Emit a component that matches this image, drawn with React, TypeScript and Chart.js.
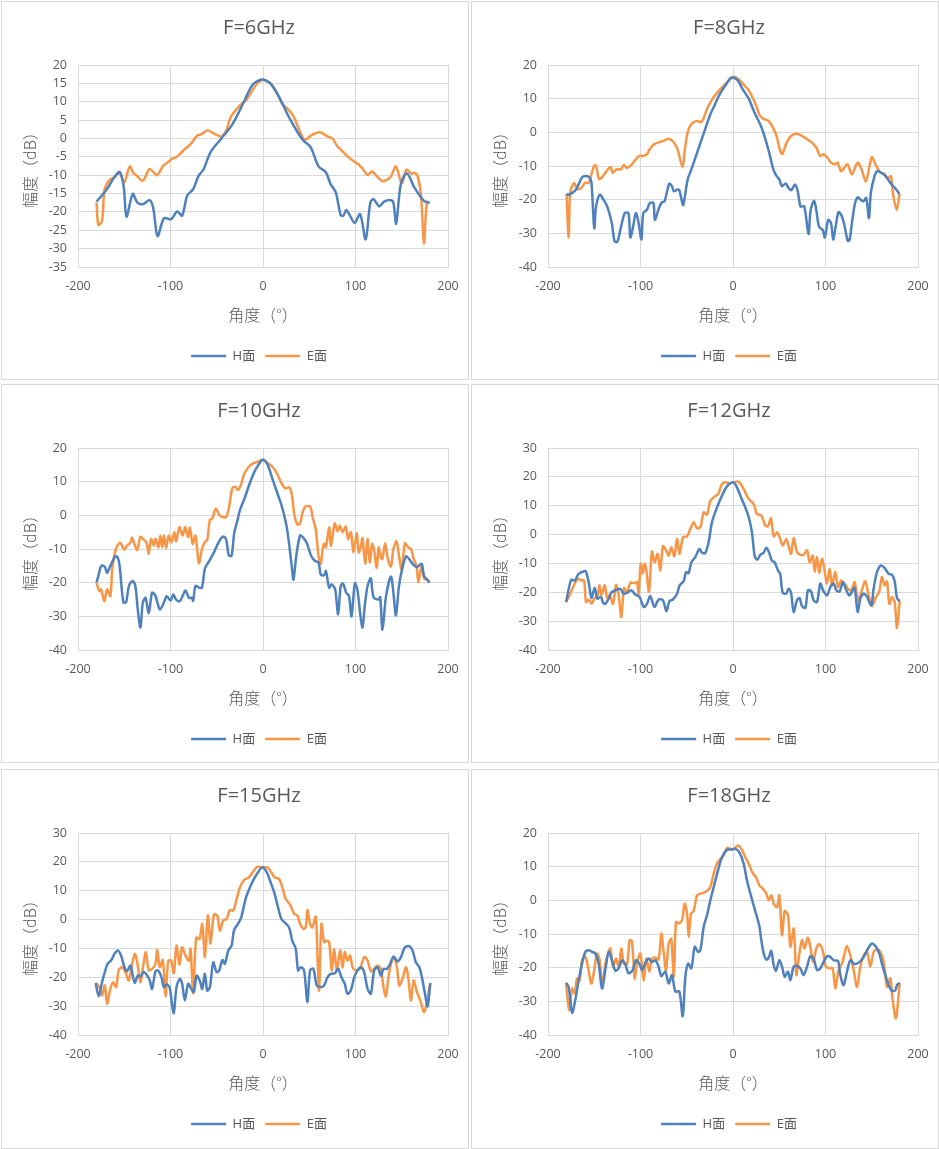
import React, { useEffect, useRef } from 'react';
import { Chart, registerables } from 'chart.js';

Chart.register(...registerables);

const FONT = '"Open Sans", "Noto Sans CJK SC", sans-serif';
const CJK_FONT = '"Noto Sans CJK SC", "Open Sans", sans-serif';
const TEXT = '#595959';
const GRID = '#d9d9d9';
const BLUE = '#4f81bd';
const ORANGE = '#f79646';

// [angle (deg), amplitude (dB)]
type Pt = [number, number];

const SERIES_NAMES = ['H面', 'E面'];
const X_TITLE = '角度（°）';
const Y_TITLE = '幅度（dB）';

const H_6: Pt[] = [
  [-180, -17.2], [-168.6, -13.8], [-161, -10.6], [-155, -9.2], [-150.5, -13.3], [-147.6, -21.3], [-140.8, -15.1],
  [-136, -17.4], [-129.6, -17.9], [-122.7, -16.8], [-118.8, -18.8], [-114, -26.6], [-107, -21.7], [-99.3, -22],
  [-92.8, -19.9], [-87.4, -21], [-82, -15.6], [-75.5, -13.8], [-69.7, -10.2], [-64, -8.3], [-56.7, -3.7], [-45, 0],
  [-35, 3.1], [-29.6, 5.4], [-20.6, 10], [-11.6, 14.5], [-2.5, 16], [2, 15.9], [8, 15], [17.3, 11.3], [30, 4.9],
  [42.6, -0.3], [51.6, -2.4], [60, -7.6], [68, -9.2], [73, -12.4], [78.7, -14.7], [84, -20.9], [87, -21], [90, -19.5],
  [94, -21], [99, -23], [105, -20.6], [111, -27.5], [116, -17.5], [119.5, -16.5], [125.6, -18.5], [131, -17.2],
  [138, -16.8], [141, -17.5], [144, -23.2], [149, -12.4], [155.6, -9.5], [163.5, -13.3], [174, -17], [180, -17.4],
];
const E_6: Pt[] = [
  [-180, -17.5], [-178, -23.5], [-174, -22.5], [-171.5, -14.2], [-168, -12], [-164, -11], [-160, -10.5], [-155, -9.1],
  [-150, -12], [-144, -7.6], [-140, -9.5], [-137, -10], [-130, -11.5], [-122.7, -8.3], [-118, -9.3], [-114.4, -10],
  [-108, -7.5], [-103, -6.5], [-98, -5.5], [-93, -5], [-85, -3], [-78, -1.5], [-71, 0.8], [-67, 1.1], [-60, 2.2],
  [-55, 1.6], [-50, 1], [-45, 0.5], [-40, 2], [-35, 5.8], [-30, 7.5], [-25, 9], [-18, 10.5], [-13, 12.5], [-6, 15],
  [0, 16], [8, 15], [15, 12.5], [21, 9.3], [27, 8], [33, 6], [38, 3], [44.4, -0.3], [48, 0], [53, 1], [61.7, 1.7],
  [70, 0.5], [75, 0], [80, -2], [86, -3.5], [92, -5], [97, -6], [103, -7], [107, -8], [113, -9.9], [118, -9],
  [122, -10], [128, -11.5], [132, -11.5], [138, -10.5], [143.7, -7.6], [150, -12.2], [155, -8.5], [160, -9.5],
  [165, -9.5], [168, -11], [171, -16], [174, -28.6], [177, -17.8], [180, -17.5],
];

const H_8: Pt[] = [
  [-180, -18.3], [-178, -18.6], [-170, -17.1], [-163, -13.3], [-158, -13], [-155, -13.5], [-153, -15], [-150, -28.5],
  [-148, -22], [-144, -18.5], [-140, -20], [-136, -22], [-131, -27], [-128, -32.4], [-125, -32.5], [-121, -28],
  [-117, -24], [-113, -24], [-111, -31.2], [-108, -28], [-105, -24], [-102, -27], [-99, -31.8], [-97, -24], [-93, -23],
  [-90, -21], [-86, -21], [-84.5, -26], [-80, -22.5], [-77, -20.8], [-74, -20.5], [-69, -15.3], [-66, -16],
  [-64, -17.5], [-60, -17], [-58, -17.2], [-54, -21.6], [-52, -19], [-49, -14], [-45, -11], [-40, -7], [-35, -3],
  [-30, 1], [-25, 5], [-20, 8], [-15, 11], [-8, 14], [-3, 16], [0, 16.2], [5, 15.5], [10, 13], [17, 10], [23, 6],
  [30, 2], [35, -2], [40, -7], [43, -10.5], [46, -12.5], [50, -14], [53, -16], [57, -15.2], [60, -16.5], [63, -17.2],
  [67, -15.5], [70, -17.5], [73, -22], [77, -22], [81.6, -30.2], [84, -23], [87.7, -20.3], [90, -23], [93, -28],
  [97, -29], [99.3, -31.2], [103, -26], [106, -27], [108.3, -31.8], [111, -28], [114, -23.7], [117, -24.5], [120, -27],
  [124, -32.2], [126, -32], [129, -26], [132, -21], [135, -19.3], [138, -20], [141, -20.5], [144, -19.5], [147, -25.5],
  [149, -18], [153, -13], [156, -11.5], [160, -12], [165, -13], [170, -15], [175, -16.5], [180, -18.3],
];
const E_8: Pt[] = [
  [-180, -18.3], [-177.6, -31.2], [-176, -18], [-172, -15.1], [-168, -16.8], [-164, -16.5], [-160, -15], [-156, -15],
  [-153, -12.5], [-150, -9.8], [-148, -10], [-145, -13.8], [-142, -13.5], [-138, -12], [-132.5, -10.3], [-130, -12],
  [-126, -11], [-121, -11], [-118, -9.7], [-115, -10.5], [-111, -10], [-108, -9], [-105, -8], [-101, -7], [-97, -7],
  [-93, -6.5], [-90, -5], [-85, -3.5], [-80, -3], [-75, -2.5], [-69, -1.9], [-64, -3], [-60, -5], [-54.5, -10.3],
  [-52, -5], [-49, 0], [-45, 2.5], [-39, 3.4], [-35, 3], [-32, 4], [-28, 7], [-22, 10], [-18, 11.5], [-13, 13],
  [-6, 15], [0, 16.5], [5, 16], [12, 14], [17, 12.5], [20, 11], [25, 8], [29, 5], [33, 4], [38, 3.5], [42, 2],
  [47, -1], [51, -5.5], [53.4, -6.4], [58, -3], [63, -1], [69, -0.4], [74, -1], [80, -2], [85, -3], [90, -4.5],
  [94, -7], [98, -6.5], [102, -7.5], [106, -9], [110, -9.5], [113, -9], [116.6, -11.5], [119, -11], [123.8, -9.5],
  [128.5, -12.5], [134.7, -9], [139, -11], [143.7, -14.5], [150, -7.4], [153.8, -9.4], [158.8, -11.8], [163.5, -12.3],
  [167, -13.8], [170.7, -13], [173, -18.3], [177, -23], [180, -18.3],
];

const H_10: Pt[] = [
  [-180, -19.9], [-178, -18], [-174.7, -15], [-171, -15.3], [-168.6, -17.1], [-165, -15], [-159.6, -12.2],
  [-157, -12.5], [-155, -15], [-151, -25.8], [-148, -25.8], [-145, -21], [-140.8, -19.5], [-138, -21], [-135, -29],
  [-132.5, -33.3], [-130, -26], [-127, -24.5], [-123.5, -29], [-120, -23], [-117, -23.5], [-114, -26], [-111.5, -28],
  [-108, -26.5], [-104, -24], [-100, -25.3], [-97, -23.5], [-94, -25], [-90, -25.5], [-86.6, -23.8], [-83.8, -22.3],
  [-80, -24.5], [-77, -24.5], [-75.5, -25.4], [-73, -21], [-69, -21.5], [-66, -21.5], [-63, -16], [-60, -14.4],
  [-58, -13.5], [-53, -11], [-48, -8], [-43.3, -6.3], [-40, -7], [-37, -11.9], [-34, -12], [-31, -5], [-28, -2],
  [-25, 1.5], [-20, 5], [-15, 9], [-10, 12.5], [-5, 15], [0, 16.5], [5, 15], [10, 11], [15, 7], [20, 3], [25, -2.5],
  [28, -8], [31, -15], [32.9, -19.1], [36, -12], [40, -6], [43, -6.5], [47, -8], [52, -12], [56, -13.5], [60, -14],
  [62.5, -17.6], [66, -17.8], [68, -16.5], [71.5, -21.5], [74, -20.5], [78, -22], [81.2, -29.4], [84, -21],
  [86.6, -20.3], [90, -23], [93, -24], [95.7, -30], [99.3, -20.2], [102, -22], [105, -29], [107.6, -33.3], [110, -27],
  [113, -21], [116.6, -18.7], [118, -22], [120, -24.5], [125, -25], [126.7, -24.3], [129.2, -34], [133, -24],
  [138.3, -18.2], [141, -23], [143.7, -29.7], [147, -21], [150, -16.5], [154.5, -12.2], [158, -13], [162, -14.5],
  [166.4, -15.4], [171.5, -14.4], [174, -18], [177, -19], [180, -19.9],
];
const E_10: Pt[] = [
  [-180, -20], [-177, -22.5], [-175, -22], [-171.5, -25.6], [-168.6, -22], [-165, -24], [-163, -16], [-160, -11],
  [-157, -8.8], [-154, -8.2], [-150, -10.2], [-147, -9], [-143, -8], [-141.5, -6.6], [-139, -8.5], [-136, -10.3],
  [-132.5, -6.4], [-129, -7.2], [-126, -8], [-123.5, -11.4], [-121, -7], [-118, -9], [-116, -7], [-113, -9.5],
  [-111, -6], [-109, -9.5], [-107, -6], [-104.7, -9.7], [-102, -6], [-99, -8], [-96, -5], [-93.9, -7.7],
  [-90.3, -3.5], [-87, -6], [-84, -3.5], [-81, -6.5], [-79, -3.7], [-76, -8.5], [-73, -6], [-69.3, -14.2], [-66, -10],
  [-63, -8], [-60.3, -7.3], [-57.4, -1.3], [-55, -1], [-51, 1.9], [-47, 0], [-44, -0.5], [-40, -0.5], [-37, 2],
  [-33.2, 8], [-30, 8.5], [-27, 7.5], [-24, 9], [-20, 12.5], [-15, 14.5], [-10, 15.5], [-5, 16], [0, 16.5], [5, 15.5],
  [10, 14.5], [15, 12.5], [20, 9.5], [24, 8], [28.5, 8.3], [31, 6.5], [34, 0], [37, -2.7], [40, -2.5], [43, 1],
  [46, 2.6], [51, 2.6], [54, -1], [57, -4], [60, -12], [62.5, -14.4], [64, -11], [66, -8.4], [68, -9.5], [71.5, -3.6],
  [73.5, -9], [77.5, -2.4], [80.5, -4.7], [83, -3], [86, -5], [89.5, -3.3], [92, -7], [95, -5], [97.8, -11],
  [101.4, -5.2], [103.5, -11], [106, -9], [107.6, -6.8], [110.5, -14.4], [113, -7], [115.5, -14], [118, -8.5],
  [120, -10], [123, -15.6], [125, -9.5], [127, -12], [129, -13], [132, -8.3], [135, -13], [138.3, -15.2], [141, -10],
  [144.4, -7.7], [147, -12], [150, -16.2], [153.4, -8.3], [157, -9.5], [160, -10], [163, -13], [166, -15],
  [168, -19.9], [171.5, -15], [174.4, -18.9], [177, -19], [180, -20],
];

const H_12: Pt[] = [
  [-180.5, -23.4], [-175, -15.7], [-171, -15.9], [-167, -13.6], [-161, -12.7], [-159, -12.8], [-156, -16.5],
  [-153, -22], [-149.5, -18.4], [-146.7, -22.2], [-142.7, -21.6], [-140.5, -23.6], [-138, -24], [-134.4, -22.2],
  [-131.5, -20.1], [-127, -19.3], [-121.8, -18.8], [-118, -20.5], [-114, -20.1], [-110, -19.3], [-105.6, -20.8],
  [-101, -21.6], [-96.6, -25.1], [-93, -24], [-89.4, -21.3], [-85, -25.1], [-80.4, -22.5], [-75.7, -22.8],
  [-72, -26.6], [-68.8, -23.1], [-65, -22.5], [-60.5, -20.5], [-57.7, -17.6], [-53.3, -16.1], [-50.8, -13],
  [-48, -13.4], [-45, -9.6], [-40.7, -7.8], [-36.4, -5], [-33.5, -6.3], [-30, -6.4], [-26.3, -2.6], [-22.7, 4.3],
  [-17.3, 9.4], [-11.9, 13.5], [-6.5, 16.7], [-1, 18.1], [2.5, 17.5], [7.9, 13.5], [13.3, 9.4], [17, 6], [20.5, 0.8],
  [23.4, -7.3], [26.3, -8.7], [29.5, -7], [33, -6.3], [36, -4.6], [39.6, -6.7], [42, -9], [45, -9.6], [48.6, -12.4],
  [51, -13.6], [53.7, -20.1], [57.3, -20.5], [60.2, -18.8], [62.7, -20.1], [65.6, -26.8], [69.2, -22.8], [72, -22],
  [74.6, -24.8], [78.2, -25.4], [81, -19.3], [84.3, -19.7], [87.2, -22.8], [90.8, -23.4], [94.4, -17], [97.3, -19.3],
  [101.6, -21.1], [105.2, -18.2], [108.8, -17], [111.7, -19.3], [115.3, -19.7], [118.9, -16.5], [122.5, -19.3],
  [125.8, -21.1], [129.4, -19.3], [131.5, -18.4], [134.8, -26.8], [137.7, -22.2], [141.3, -20.5], [144.9, -21.6],
  [149.5, -24.5], [152, -18.8], [155.7, -13], [160, -10.7], [164, -11.6], [168.3, -13.6], [171.9, -13.9],
  [174.8, -16.2], [177.3, -22], [180.2, -23.1],
];
const E_12: Pt[] = [
  [-180.5, -23.4], [-176.6, -21], [-172, -17.6], [-167.6, -15.3], [-164, -15.9], [-161, -15.9], [-158.9, -23.4],
  [-156, -22.5], [-153, -24], [-149.5, -22], [-146.7, -21.6], [-144.5, -17.6], [-142.3, -21], [-138.7, -17.6],
  [-136, -22], [-133.3, -21], [-129.7, -24], [-126.5, -17.4], [-123.6, -21], [-120.7, -28.6], [-117.8, -18.5],
  [-114.6, -20.1], [-111, -16.7], [-106.7, -16.9], [-103.8, -16.5], [-102, -20.5], [-99.8, -10.1], [-97.7, -13.6],
  [-95.5, -10.1], [-93.7, -12.4], [-90.8, -19.7], [-87.6, -5.9], [-84.7, -9.6], [-81.4, -6.7], [-78.6, -12.4],
  [-75.7, -4], [-72.4, -5.5], [-69.5, -7.3], [-66.7, -4.4], [-63.4, -7.5], [-60.5, -1.5], [-57.7, -6.7], [-54, -0.9],
  [-49.7, -0.6], [-46, 2], [-42.5, 4.3], [-38.9, 2.2], [-35.3, 2.5], [-31.7, 7.7], [-28.1, 6.9], [-24.5, 11.7],
  [-20.9, 12.9], [-16.2, 14], [-11.9, 17.5], [-8.3, 18.1], [-4.7, 17.8], [0.7, 18.1], [5.4, 18.4], [9.7, 16.9],
  [13.3, 14.6], [17, 12.3], [22.3, 10.6], [25.9, 7.1], [30.6, 6.6], [35, 3.1], [37.8, 2.9], [41, 5.6], [44, -0.6],
  [47.6, 0.8], [51, -1.5], [53.7, -3.8], [57.7, -1.5], [60.2, -4], [62.7, -6.7], [65.6, -1.2], [69.2, -6.1], [72.8, -7],
  [76.4, -7], [80, -5.5], [82.9, -9.6], [86.1, -7.3], [88.3, -12.8], [90.8, -7.8], [93.3, -13.2], [96.2, -8.4],
  [98.7, -11.9], [101.6, -17], [104.5, -11.9], [107, -17.6], [110.6, -13], [113.5, -18.2], [117.1, -15.9],
  [120.7, -17], [124.3, -18.8], [128, -19.3], [131.5, -16.5], [135.1, -22.8], [138.7, -19.9], [143, -16.2],
  [146.7, -21.1], [150.3, -24.8], [154.6, -21.6], [158.2, -19.7], [161, -14.7], [164, -17.6], [166.5, -16.2],
  [169, -24], [171.9, -21.6], [174.8, -23.4], [177.3, -32.4], [180.2, -23.1],
];

const H_15: Pt[] = [
  [-180.9, -22], [-177.6, -26.6], [-174, -21.7], [-171, -18.2], [-167.9, -15.3], [-164.3, -14.2], [-160.6, -11.9],
  [-157, -10.7], [-153.4, -12.5], [-149.8, -16.5], [-147, -17.9], [-143.3, -15.9], [-140.8, -19.4], [-138.6, -22],
  [-135.4, -19.4], [-132.5, -19.7], [-128.9, -18.2], [-125.3, -19.4], [-122.4, -21.1], [-119.9, -24], [-116.2, -17.9],
  [-113.4, -17.6], [-109.7, -20], [-107.2, -23.4], [-104.3, -22.5], [-101, -23.4], [-98.2, -29.8], [-96.4, -32.4],
  [-93.5, -23.4], [-89.9, -20.5], [-87.4, -22.3], [-84.5, -28], [-80.9, -22.3], [-77.6, -24], [-74.7, -25.1],
  [-71.8, -19.4], [-68.2, -21.3], [-65.7, -24], [-62.8, -18.8], [-60.3, -24.6], [-57.4, -23.4], [-53.8, -14.8],
  [-50.2, -18.2], [-47.3, -17.6], [-44, -14], [-41.2, -15.3], [-37.5, -10.7], [-33.9, -9], [-31.4, -3.8],
  [-27.1, -1.5], [-23.5, 0.8], [-18.8, 7.2], [-14.1, 11.2], [-9.7, 14.1], [-5.4, 16.4], [-0.7, 18.1], [4, 16.4],
  [8.3, 12.9], [12.6, 8.9], [16.2, 4.3], [19.9, 0.2], [24.5, -1.3], [28.2, -2.7], [31.8, -7.5], [35.4, -10.1],
  [37.9, -17.6], [40.8, -16.5], [44.4, -17.6], [48, -28.6], [50.9, -17.6], [54.5, -17.1], [58.1, -22.8], [62.5, -23.4],
  [66.1, -22.8], [69.7, -20], [73.3, -18.8], [77.6, -18.6], [81.2, -17.1], [84.8, -20], [88.4, -22.3], [91.3, -25.7],
  [94.9, -24.6], [98.6, -20], [102.2, -17.6], [105.8, -16.5], [109.4, -18.2], [113, -24], [116.6, -25.7],
  [120.2, -17.6], [123.8, -16.5], [127.4, -19.4], [130.3, -17.1], [133.9, -17.1], [137.5, -15.3], [141.2, -12.8],
  [145.5, -14.5], [149.1, -13], [153.4, -9.6], [158.1, -9.2], [161.7, -10.7], [165.3, -14.8], [169, -16.5],
  [171.8, -20], [175.1, -25.7], [178, -30.1], [180.9, -22],
];
const E_15: Pt[] = [
  [-180.9, -22], [-176.9, -23.4], [-174, -26.3], [-171, -22.8], [-168.6, -29.2], [-165, -24], [-162.1, -21.7],
  [-158.8, -23.4], [-156, -17.6], [-152.3, -16.5], [-148.7, -18.2], [-145.1, -21.1], [-142.2, -16.5], [-138.6, -11.9],
  [-136, -14.8], [-132.5, -21.7], [-129.6, -16.3], [-126.7, -11.3], [-123.5, -17.6], [-119.9, -17.1], [-116.2, -15.3],
  [-114.4, -10.5], [-111.6, -16.5], [-108.3, -14], [-105.4, -26.6], [-102.5, -14.4], [-99.3, -14.2], [-96.4, -18.6],
  [-93.5, -9], [-90.3, -15.6], [-87.4, -9.6], [-83.8, -12.5], [-80.1, -14.2], [-78.3, -10.1], [-75.5, -25.5],
  [-72.2, -6.3], [-68.6, -6.7], [-65.7, -1.5], [-62.8, -13], [-59.6, 1.4], [-56.7, -8.4], [-53.1, 1.7], [-49.5, 1.4],
  [-46.6, -3.8], [-43, -0.3], [-39.4, 0.2], [-35.7, 3.3], [-32.1, 3.1], [-28.5, 7.2], [-24.9, 11.2], [-20.6, 13.7],
  [-15.2, 14.6], [-10.5, 16.7], [-6.1, 18.3], [-0.7, 18.1], [4.7, 18.1], [9, 16.4], [12.6, 14.6], [17.3, 14.1],
  [20.9, 11.2], [24.5, 7.2], [29.2, 5.2], [33.6, 2], [37.2, 1.4], [40.1, -1.5], [43.7, -3.2], [46.2, -2.7], [48, 3.3],
  [50.9, -1.5], [53.4, -2.7], [57, 1], [58.8, -11.9], [60.6, -24.6], [63.2, -1.5], [66.1, -7.8], [69, -7.3],
  [71.5, -7.8], [74.4, -17.6], [76.9, -10.1], [79.8, -17.6], [83.4, -10.7], [85.9, -16.5], [88.4, -11.3],
  [91.3, -14.2], [94.2, -12.5], [96.8, -16.5], [100.4, -17.6], [104.7, -17.1], [109.4, -13], [113, -14.2],
  [116.6, -17.9], [120.2, -17.1], [123.8, -15.9], [127.4, -17.1], [130.3, -23.4], [132.9, -26.6], [136.5, -18.2],
  [141.2, -13], [144.8, -16.5], [147.3, -22.8], [150.9, -20.5], [154.5, -16.5], [157, -20], [159.9, -28],
  [162.8, -21.1], [166.4, -25.1], [170, -28], [174.4, -32.1], [178, -26.9], [180.9, -22],
];

const H_18: Pt[] = [
  [-180.5, -24.5], [-177.7, -25.7], [-174, -33.4], [-170.5, -29.6], [-166.8, -23.7], [-163.2, -18.8], [-159.6, -15.3],
  [-156, -14.8], [-152.4, -15.3], [-148.8, -15.8], [-145.2, -18.8], [-141.6, -26.2], [-138, -20.7], [-134.4, -15.3],
  [-130.8, -17.8], [-127.2, -20.9], [-123.6, -20.2], [-120, -17.8], [-116.4, -19], [-112.8, -21.7], [-108.5, -20.7],
  [-104.9, -17.8], [-101.3, -18.8], [-98.4, -20.7], [-94.8, -18.6], [-91.2, -17.3], [-87.6, -18.3], [-84, -17.8],
  [-80.4, -19.7], [-77.5, -22.5], [-73.2, -21.2], [-69.5, -24.7], [-66, -22.2], [-62.3, -27.1], [-58, -27.1],
  [-54.4, -34.4], [-51.5, -22.7], [-48.6, -18.8], [-45, -20.2], [-41.4, -13.8], [-37.8, -15.3], [-35.3, -14.8],
  [-31.7, -7.9], [-28.1, -4.4], [-24.5, 0], [-20.9, 3.9], [-16.2, 8.9], [-11.9, 12.8], [-6.5, 15], [-1.1, 15.1],
  [2.5, 15.3], [6.8, 14.3], [11.5, 10.9], [15.1, 5.9], [19.8, 1], [24.1, -3.2], [28.5, -7.7], [30.6, -11.8],
  [33.2, -15.8], [36, -17.6], [38.6, -17], [41.4, -15], [44, -19.2], [46.5, -20.9], [50.1, -17.8], [53, -19.7],
  [55.9, -22.7], [59.5, -21.2], [62, -23.7], [65.6, -19.7], [69.2, -19.5], [72.8, -20.2], [76.4, -22.2], [80, -19.7],
  [83.6, -16.6], [87.2, -17.3], [90.8, -20.7], [94.4, -20.2], [98, -18.3], [101.6, -16.6], [105.2, -16.8],
  [108.8, -17.8], [113.5, -18], [116, -22.2], [119.6, -25.2], [123.2, -21.2], [126.8, -17.8], [130.5, -18.8],
  [134, -18.8], [138.7, -17.8], [142.3, -16.3], [146, -14.3], [150.3, -12.8], [154.6, -13.8], [158.2, -15.8],
  [161, -18.8], [164.7, -22.2], [168.3, -25.2], [171.9, -26.9], [175.5, -26.7], [177.3, -25.2], [180.2, -24.5],
];
const E_18: Pt[] = [
  [-180.5, -24.5], [-178.7, -29.6], [-176.9, -32.6], [-174, -26.2], [-171.2, -27.6], [-168.6, -23.2], [-165.8, -23.7],
  [-163.2, -17.8], [-159.6, -16.8], [-156.8, -19.7], [-153.2, -24.7], [-150.3, -21.2], [-147, -15.8], [-144.1, -17.8],
  [-141.6, -25.2], [-138, -18.8], [-135.1, -15.8], [-132.6, -14.3], [-129.7, -19.7], [-126.5, -17.3], [-123.6, -19.7],
  [-120.7, -14.3], [-118.2, -18.8], [-114.6, -19], [-111.7, -11.8], [-109.2, -12.3], [-106.3, -23.2], [-103.8, -18.8],
  [-100.2, -15.8], [-96.6, -23.7], [-93.7, -17.3], [-90.5, -21.2], [-87.6, -17.3], [-84, -17], [-80.4, -17.6],
  [-77.5, -9.9], [-75, -15.3], [-72.4, -20.7], [-69.5, -12.8], [-66.7, -11.4], [-64.1, -22.7], [-61.6, -6.4],
  [-58.7, -6.9], [-55.1, -5.9], [-52.3, -1], [-49.7, -3.9], [-47.9, -10.9], [-45.4, -3.9], [-42.5, -3.2],
  [-38.9, 1.5], [-35.3, 2], [-31.7, 2.2], [-28.1, 2.8], [-24.5, 3.9], [-20.9, 7.9], [-17.3, 10.9], [-13.7, 12.3],
  [-10.1, 13.3], [-6.5, 15.6], [-2.9, 15.3], [0.7, 15.2], [5.4, 16.3], [9.7, 15], [13.3, 12.8], [17, 10.9],
  [21.3, 8.1], [24.9, 6.9], [28.5, 4.4], [32.1, 3.5], [35.7, 2.2], [38.6, 0], [41.4, 1.5], [44, -1], [47.6, -2],
  [50.1, 1.5], [53, -10.4], [55.9, -3.2], [59.5, -4.4], [62, -13.8], [65.6, -8.4], [68.5, -22.2], [71, -17.3],
  [74.6, -11.8], [77.5, -14.3], [80.7, -11.1], [83.6, -13.8], [86.5, -18.3], [90.1, -14.3], [93.3, -13],
  [96.9, -14.8], [100.5, -19.7], [104.1, -20.2], [107.7, -20.2], [110.6, -26.2], [114.2, -20.7], [117.8, -18.8],
  [120.7, -15.8], [123.2, -13.6], [126.8, -16.3], [130.5, -20.7], [134, -25.7], [137.7, -19.7], [141.3, -16.3],
  [144.9, -15.3], [148.5, -19.7], [152.1, -15.3], [155.7, -14.6], [159.3, -15.3], [162.9, -18.3], [166.5, -25.7],
  [170.1, -23.2], [172.6, -29.6], [176.2, -35], [180.2, -24.5],
];

interface PanelProps {
  title: string;
  h: Pt[];
  e: Pt[];
  yMin: number;
  yMax: number;
  yStep: number;
}

const toXY = (pts: Pt[]) => pts.map(([x, y]) => ({ x, y }));

const ChartPanel: React.FC<PanelProps> = ({ title, h, e, yMin, yMax, yStep }) => {
  const canvasRef = useRef<HTMLCanvasElement | null>(null);

  useEffect(() => {
    if (!canvasRef.current) return;
    const line = (label: string, pts: Pt[], color: string) => ({
      label,
      data: toXY(pts),
      borderColor: color,
      backgroundColor: color,
      borderWidth: 2.5,
      pointRadius: 0,
      tension: 0.3,
      fill: false,
    });
    const chart = new Chart(canvasRef.current, {
      type: 'line',
      data: {
        datasets: [line(SERIES_NAMES[0], h, BLUE), line(SERIES_NAMES[1], e, ORANGE)],
      },
      options: {
        animation: false,
        responsive: false,
        maintainAspectRatio: false,
        layout: { padding: { left: 0, right: 0, top: 0, bottom: 6.5 } },
        plugins: {
          title: {
            display: true,
            text: title,
            color: TEXT,
            font: { family: FONT, size: 20, weight: 'normal' },
            padding: { top: 14.5, bottom: 24.5 },
          },
          legend: {
            position: 'bottom',
            labels: {
              color: TEXT,
              font: { family: FONT, size: 13 },
              usePointStyle: true,
              pointStyle: 'line',
              pointStyleWidth: 35,
              padding: 10,
            },
          },
          tooltip: { enabled: false },
        },
        scales: {
          x: {
            type: 'linear',
            min: -200,
            max: 200,
            ticks: { stepSize: 100, color: TEXT, font: { family: FONT, size: 12.5 }, padding: 12 },
            grid: { color: GRID, drawTicks: false },
            border: { color: GRID },
            title: {
              display: true,
              text: X_TITLE,
              color: TEXT,
              font: { family: CJK_FONT, size: 16, weight: 300 },
              padding: { top: 0, bottom: 15 },
            },
            afterFit: (s: any) => {
              s.height = 72.5;
            },
          },
          y: {
            min: yMin,
            max: yMax,
            ticks: { stepSize: yStep, color: TEXT, font: { family: FONT, size: 12.5 }, padding: 11 },
            grid: { color: GRID, drawTicks: false },
            border: { color: GRID },
            title: {
              display: true,
              text: Y_TITLE,
              color: TEXT,
              font: { family: CJK_FONT, size: 16, weight: 300 },
              padding: { top: 18, bottom: 0 },
            },
            afterFit: (s: any) => {
              s.width = 76;
            },
          },
          // empty right-hand axis only reserves room so title/legend centre like the original
          yPad: {
            position: 'right',
            display: true,
            grid: { display: false },
            border: { display: false },
            ticks: { display: false },
            afterFit: (s: any) => {
              s.width = 68;
            },
          },
        },
      } as any,
    });
    return () => chart.destroy();
  }, [title, h, e, yMin, yMax, yStep]);

  return <canvas ref={canvasRef} width={514} height={377} style={{ position: 'absolute', left: 0, top: 0, width: 514, height: 377 }} />;
};

const PANELS: (PanelProps & { left: number; top: number; height: number })[] = [
  { title: 'F=6GHz', h: H_6, e: E_6, yMin: -35, yMax: 20, yStep: 5, left: 1, top: 1, height: 379 },
  { title: 'F=8GHz', h: H_8, e: E_8, yMin: -40, yMax: 20, yStep: 10, left: 471, top: 1, height: 379 },
  { title: 'F=10GHz', h: H_10, e: E_10, yMin: -40, yMax: 20, yStep: 10, left: 1, top: 384, height: 379 },
  { title: 'F=12GHz', h: H_12, e: E_12, yMin: -40, yMax: 30, yStep: 10, left: 471, top: 384, height: 379 },
  { title: 'F=15GHz', h: H_15, e: E_15, yMin: -40, yMax: 30, yStep: 10, left: 1, top: 769, height: 380 },
  { title: 'F=18GHz', h: H_18, e: E_18, yMin: -40, yMax: 20, yStep: 10, left: 471, top: 769, height: 380 },
];

export default function App() {
  return (
    <div style={{ position: 'absolute', left: 0, top: 0, width: 939, height: 1149, background: '#fff' }}>
      {PANELS.map((p) => (
        <div
          key={p.title}
          style={{
            position: 'absolute',
            left: p.left,
            top: p.top,
            width: 468,
            height: p.height,
            boxSizing: 'border-box',
            border: '1px solid #d9d9d9',
            overflow: 'hidden',
            background: '#fff',
          }}
        >
          <ChartPanel title={p.title} h={p.h} e={p.e} yMin={p.yMin} yMax={p.yMax} yStep={p.yStep} />
        </div>
      ))}
    </div>
  );
}
